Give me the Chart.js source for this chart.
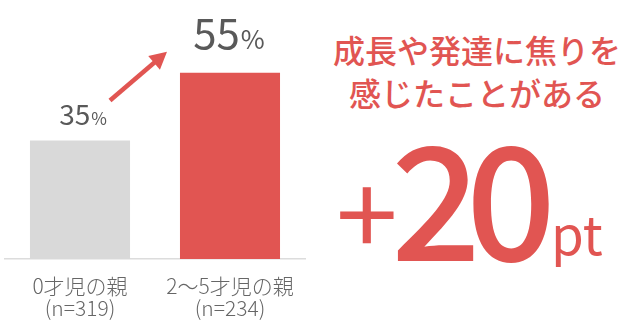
<!DOCTYPE html>
<html><head><meta charset="utf-8">
<script src="https://cdn.jsdelivr.net/npm/chart.js@4/dist/chart.umd.min.js"></script>
<style>
html,body{margin:0;padding:0;background:#fff;}
#wrap{position:relative;width:640px;height:330px;overflow:hidden;background:#fff;}
#c{position:absolute;left:0;top:0;}
.red{color:#e15552;font-family:"Noto Sans CJK JP","Noto Sans",sans-serif;}
#head{position:absolute;left:332px;width:290px;top:28px;text-align:center;font-size:32px;line-height:43px;font-weight:500;white-space:nowrap;}
#plus{position:absolute;left:336px;top:152px;font-size:111px;line-height:1;font-weight:400;}
#big{position:absolute;left:391px;top:114px;font-size:158px;line-height:1;font-weight:500;letter-spacing:-15px;}
#pt{position:absolute;left:551px;top:206px;font-size:53px;line-height:1;font-weight:400;}
</style></head>
<body>
<div id="wrap">
<canvas id="c" width="320" height="330"></canvas>
<div id="head" class="red"></div>
<div id="plus" class="red"></div>
<div id="big" class="red"></div>
<div id="pt" class="red"></div>
</div>
<script>
// ---- data ----
const categories = [['0才児の親', '(n=319)'], ['2〜5才児の親', '(n=234)']];
const values = [35, 55];
const unit = '%';
const headlineLines = ['成長や発達に焦りを', '感じたことがある'];
const diffSign = '+';
const diffValue = '20';
const diffUnit = 'pt';

// ---- text block ----
document.getElementById('head').innerHTML = headlineLines.join('<br>');
document.getElementById('plus').textContent = diffSign;
document.getElementById('big').textContent = diffValue;
document.getElementById('pt').textContent = diffUnit;

const RED = '#e15552', GRAY_BAR = '#d9d9d9', TEXT = '#595959';
const FONT = '"Noto Sans CJK JP","Noto Sans",sans-serif';

const labelPlugin = {
  id: 'valueLabels',
  afterDatasetsDraw(chart) {
    const ctx = chart.ctx;
    const meta = chart.getDatasetMeta(0);
    const sizes = [28, 42];
    const gaps = [16, 24];
    const offs = [3, -1];
    ctx.save();
    meta.data.forEach((bar, i) => {
      const num = String(values[i]);
      const big = sizes[i];
      const small = Math.round(big * 0.62);
      ctx.font = '400 ' + big + 'px ' + FONT;
      const wNum = ctx.measureText(num).width;
      ctx.font = '400 ' + small + 'px ' + FONT;
      const wPct = ctx.measureText(unit).width;
      const total = wNum + wPct + 1;
      const x0 = bar.x + offs[i] - total / 2;
      const y = bar.y - gaps[i];
      ctx.fillStyle = TEXT;
      ctx.textBaseline = 'alphabetic';
      ctx.textAlign = 'left';
      ctx.font = '400 ' + big + 'px ' + FONT;
      ctx.fillText(num, x0, y);
      ctx.font = '400 ' + small + 'px ' + FONT;
      ctx.fillText(unit, x0 + wNum + 1, y);
    });
    // arrow between the two values
    const a = meta.data[0], b = meta.data[1];
    const sx = a.x + 30, sy = a.y - 40;
    const tx = b.x - 63, ty = b.y - 21;
    const ang = Math.atan2(ty - sy, tx - sx);
    const hl = 17, hw = 9;
    const bx = tx - hl * Math.cos(ang), by = ty - hl * Math.sin(ang);
    ctx.strokeStyle = RED;
    ctx.fillStyle = RED;
    ctx.lineWidth = 4.5;
    ctx.lineCap = 'butt';
    ctx.beginPath();
    ctx.moveTo(sx, sy);
    ctx.lineTo(bx + 2 * Math.cos(ang), by + 2 * Math.sin(ang));
    ctx.stroke();
    ctx.beginPath();
    ctx.moveTo(tx, ty);
    ctx.lineTo(bx + hw * Math.sin(ang), by - hw * Math.cos(ang));
    ctx.lineTo(bx - hw * Math.sin(ang), by + hw * Math.cos(ang));
    ctx.closePath();
    ctx.fill();
    ctx.restore();
  }
};

new Chart(document.getElementById('c'), {
  type: 'bar',
  data: {
    labels: categories,
    datasets: [{
      data: values,
      backgroundColor: [GRAY_BAR, RED],
      borderWidth: 0,
      categoryPercentage: 1,
      barPercentage: 0.667
    }]
  },
  options: {
    responsive: false,
    animation: false,
    events: [],
    layout: { padding: { left: 5, right: 15, top: 22, bottom: 0 } },
    plugins: { legend: { display: false }, tooltip: { enabled: false } },
    scales: {
      x: {
        afterFit(scale) { scale.height = 71; },
        grid: { display: false, drawTicks: false },
        border: { display: true, color: '#dcdcdc', width: 1.5 },
        ticks: {
          color: '#666',
          padding: 16,
          maxRotation: 0,
          font: { family: FONT, size: 21, weight: '300', lineHeight: 1.05 }
        }
      },
      y: { display: false, min: 0, max: 70 }
    }
  },
  plugins: [labelPlugin]
});
</script>
</body></html>
